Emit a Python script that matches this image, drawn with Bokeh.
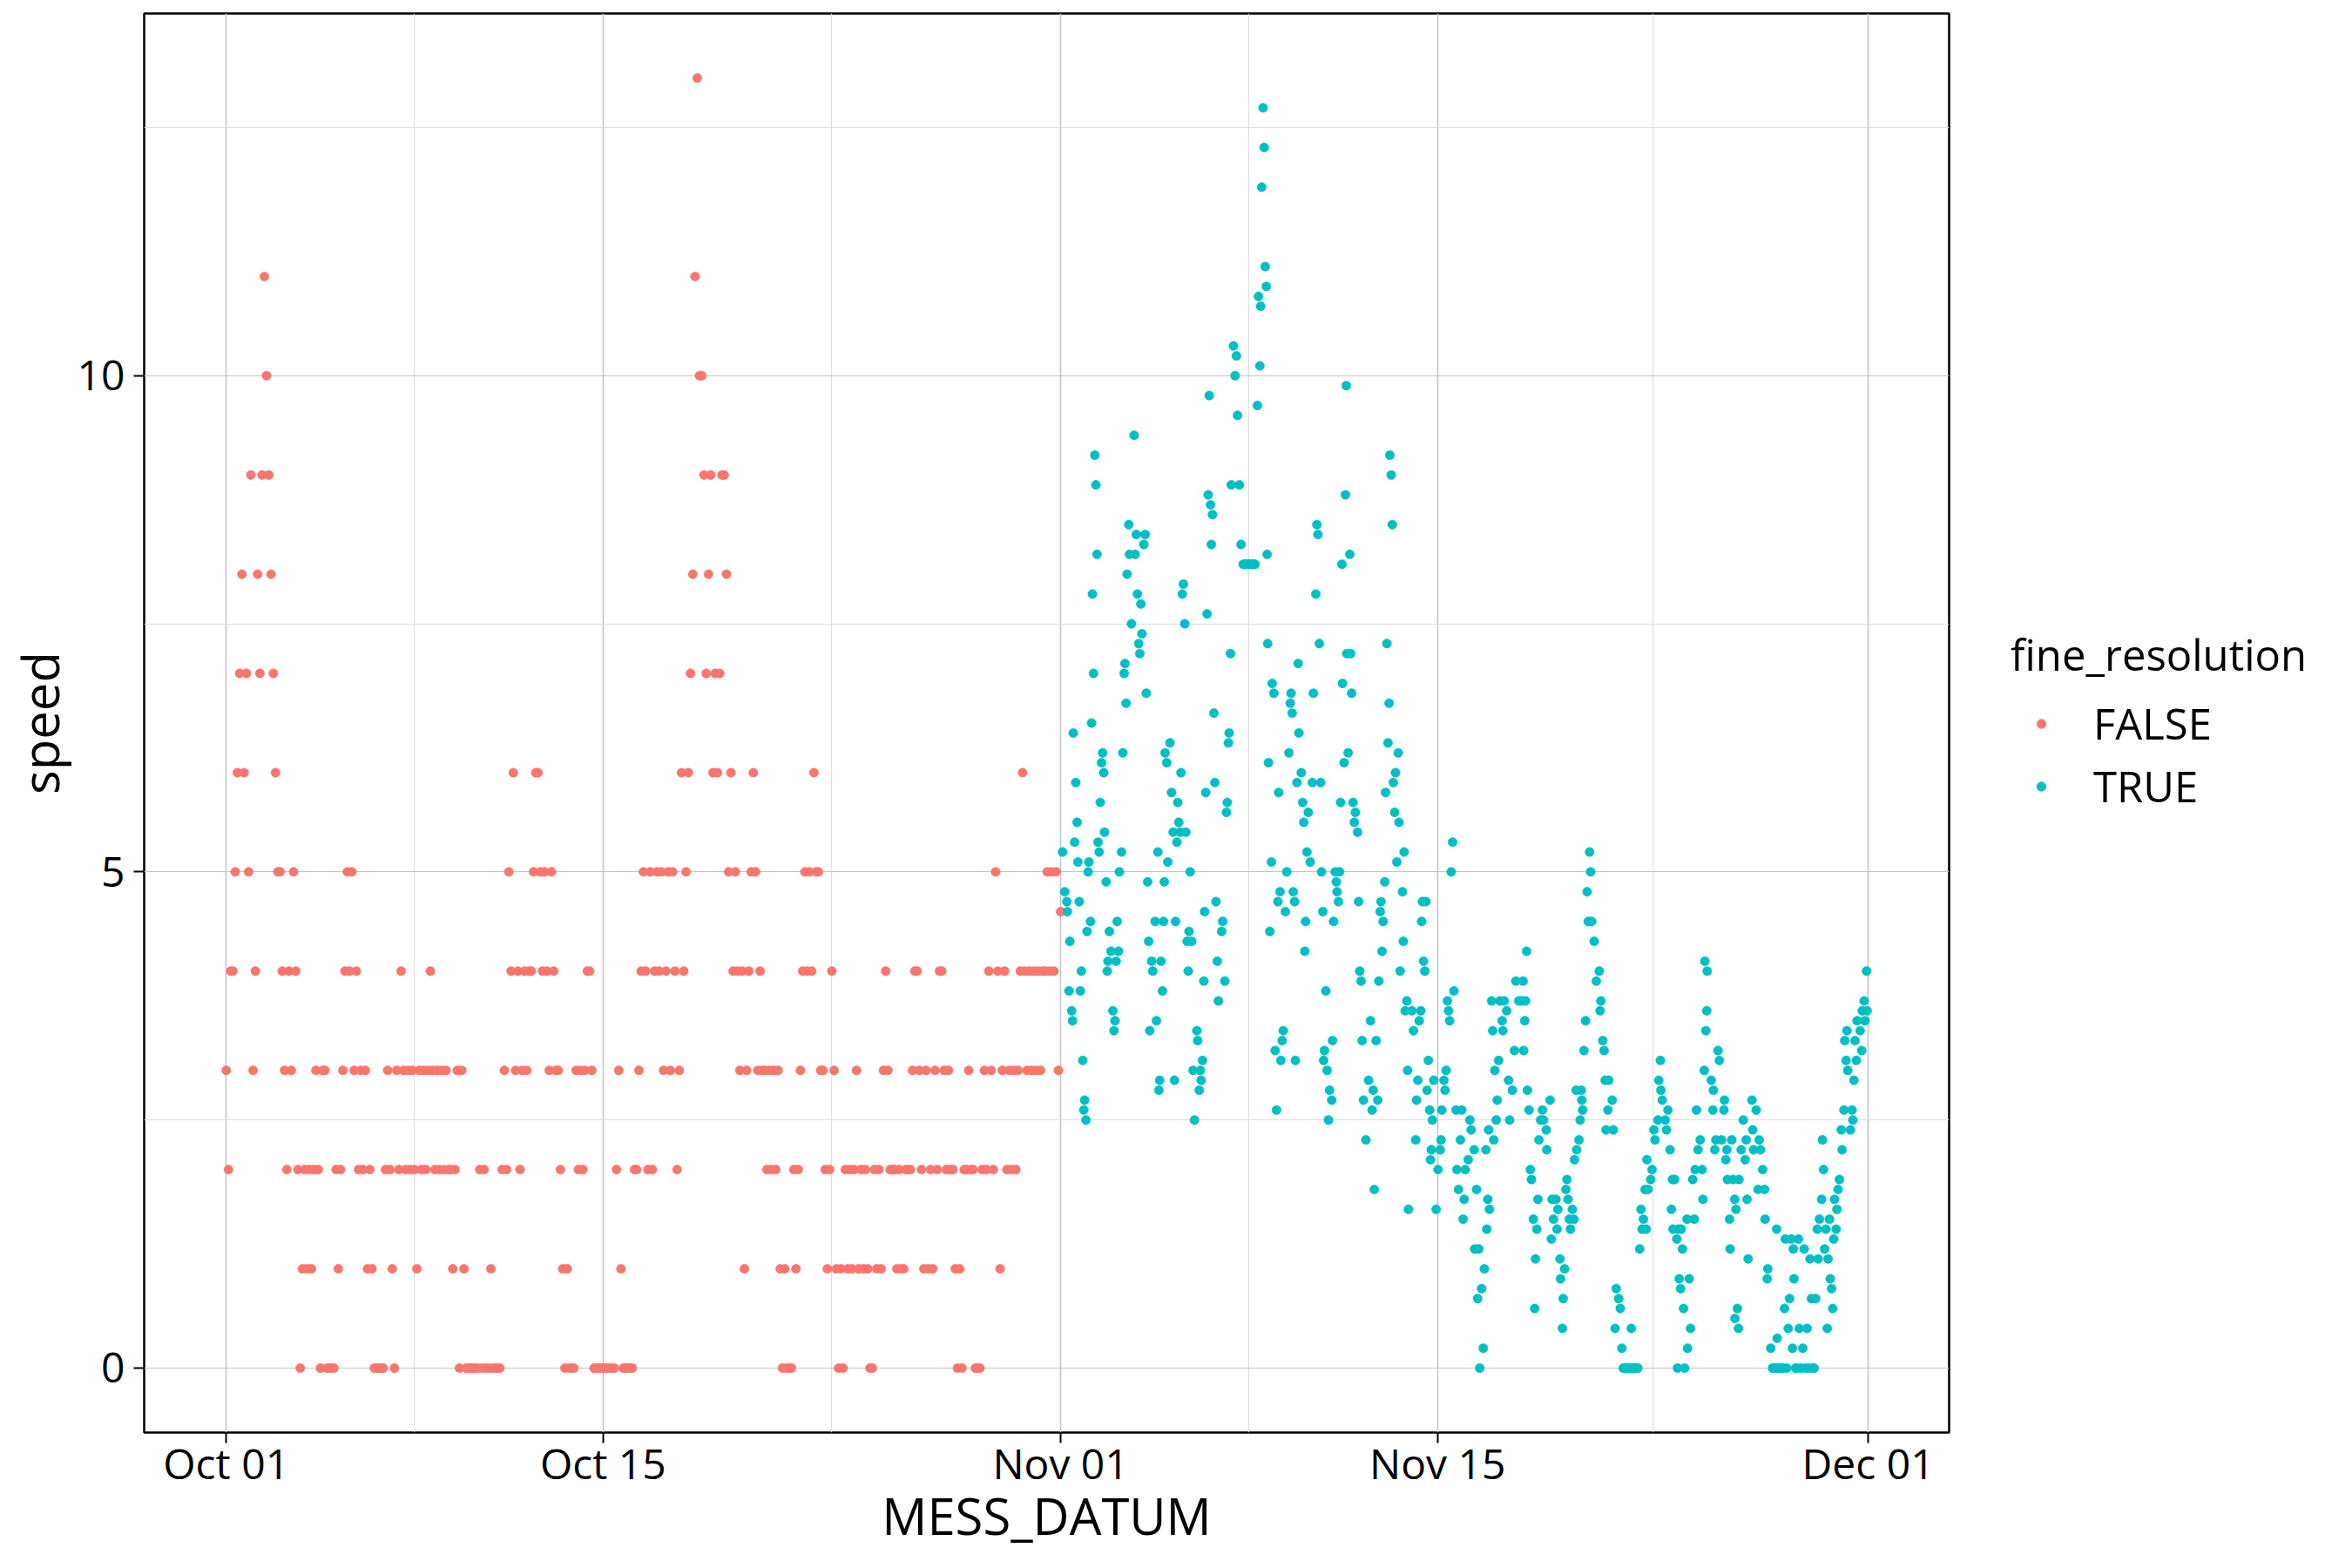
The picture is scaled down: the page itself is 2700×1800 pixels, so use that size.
import pandas as pd
from bokeh.plotting import figure
from bokeh.models import Range1d, FixedTicker, DatetimeTickFormatter, Legend, LegendItem
from bokeh.embed import file_html
from bokeh.resources import INLINE

FONT = "Open Sans"

# ---------------- data ----------------
# FALSE series (integer resolution): 2-hourly readings starting Oct 01 00:00, one row per day
oct_start = "2019-10-01 00:00"
oct_speed_by_day = [
    [3, 2, 4, 4, 5, 6, 7, 8, 6, 7, 5, 9],      # Oct 01
    [3, 4, 8, 7, 9, 11, 10, 9, 8, 7, 6, 5],    # Oct 02
    [5, 4, 3, 2, 4, 3, 5, 4, 2, 0, 1, 2],      # Oct 03
    [1, 2, 1, 2, 3, 2, 0, 3, 3, 0, 0, 0],      # Oct 04
    [0, 2, 1, 2, 3, 4, 5, 4, 5, 3, 4, 2],      # Oct 05
    [3, 2, 3, 1, 2, 1, 0, 0, 0, 0, 0, 2],      # Oct 06
    [3, 2, 1, 0, 3, 2, 4, 3, 2, 3, 2, 3],      # Oct 07
    [2, 1, 3, 2, 3, 2, 3, 4, 3, 2, 3, 2],      # Oct 08
    [3, 2, 3, 2, 2, 1, 2, 3, 0, 3, 1, 0],      # Oct 09
    [0, 0, 0, 0, 0, 2, 0, 2, 0, 0, 1, 0],      # Oct 10
    [0, 0, 0, 2, 3, 2, 5, 4, 6, 3, 4, 2],      # Oct 11
    [3, 4, 3, 4, 4, 5, 6, 6, 5, 4, 5, 4],      # Oct 12
    [3, 5, 4, 3, 3, 2, 1, 0, 1, 0, 0, 0],      # Oct 13
    [3, 2, 3, 2, 3, 4, 4, 3, 0, 0, 0, 0],      # Oct 14
    [0, 0, 0, 0, 0, 0, 2, 3, 1, 0, 0, 0],      # Oct 15
    [0, 0, 2, 2, 3, 4, 5, 4, 2, 5, 2, 4],      # Oct 16
    [5, 4, 5, 3, 4, 5, 3, 5, 4, 2, 3, 6],      # Oct 17
    [4, 5, 6, 7, 8, 11, 13, 10, 10, 9, 7, 8],  # Oct 18
    [9, 6, 7, 6, 7, 9, 9, 8, 5, 6, 4, 5],      # Oct 19
    [4, 3, 4, 1, 3, 4, 5, 6, 5, 3, 4, 3],      # Oct 20
    [3, 2, 3, 2, 3, 2, 3, 1, 0, 1, 0, 0],      # Oct 21
    [0, 2, 1, 2, 3, 4, 5, 4, 5, 4, 6, 5],      # Oct 22
    [5, 3, 3, 2, 1, 2, 4, 3, 1, 0, 1, 0],      # Oct 23
    [2, 1, 2, 1, 2, 3, 1, 2, 1, 2, 1, 0],      # Oct 24
    [0, 2, 1, 2, 1, 3, 4, 3, 2, 2, 2, 1],      # Oct 25
    [2, 1, 1, 2, 2, 2, 3, 4, 4, 3, 2, 1],      # Oct 26
    [3, 1, 2, 1, 3, 2, 4, 4, 3, 2, 3, 2],      # Oct 27
    [2, 1, 0, 1, 0, 2, 2, 3, 2, 2, 0, 0],      # Oct 28
    [0, 2, 3, 2, 4, 3, 2, 5, 4, 1, 3, 4],      # Oct 29
    [2, 3, 2, 3, 2, 3, 4, 6, 4, 3, 4, 3],      # Oct 30
    [4, 3, 4, 3, 4, 4, 5, 4, 5, 4, 5, 3],      # Oct 31
    [4.6],                                     # Nov 01 00:00
]

# TRUE series (0.1 resolution): time in days after Nov 01 00:00 and speed, one row per day
nov_day_by_day = [
    [0.07, 0.15, 0.23, 0.25, 0.31, 0.34, 0.41, 0.44, 0.47, 0.52, 0.56, 0.61, 0.64, 0.69, 0.73, 0.77, 0.82, 0.86, 0.89, 0.94, 0.98],
    [1.02, 1.05, 1.11, 1.15, 1.18, 1.22, 1.27, 1.31, 1.35, 1.39, 1.43, 1.47, 1.52, 1.56, 1.60, 1.63, 1.69, 1.73, 1.76, 1.81, 1.87, 1.94, 1.98],
    [2.02, 2.06, 2.10, 2.15, 2.18, 2.26, 2.31, 2.36, 2.39, 2.43, 2.47, 2.53, 2.56, 2.63, 2.73, 2.77, 2.81, 2.85, 2.90, 2.94, 2.98],
    [3.02, 3.09, 3.14, 3.18, 3.23, 3.27, 3.31, 3.38, 3.42, 3.51, 3.56, 3.61, 3.65, 3.68, 3.73, 3.78, 3.82, 3.85, 3.88, 3.94, 3.98],
    [4.06, 4.12, 4.18, 4.23, 4.27, 4.32, 4.35, 4.39, 4.44, 4.47, 4.52, 4.56, 4.61, 4.65, 4.70, 4.74, 4.77, 4.81, 4.87, 4.92, 4.97],
    [5.06, 5.09, 5.15, 5.19, 5.22, 5.27, 5.32, 5.35, 5.39, 5.44, 5.48, 5.52, 5.57, 5.60, 5.64, 5.69, 5.73, 5.77, 5.82, 5.86, 5.98],
    [6.02, 6.10, 6.16, 6.19, 6.23, 6.26, 6.31, 6.34, 6.42, 6.48, 6.53, 6.57, 6.64, 6.70, 6.78, 6.83, 6.88, 6.93, 6.98],
    [7.03, 7.08, 7.13, 7.18, 7.22, 7.31, 7.35, 7.40, 7.43, 7.47, 7.52, 7.56, 7.60, 7.64, 7.67, 7.69, 7.72, 7.77, 7.83, 7.86, 7.92, 7.97],
    [8.02, 8.07, 8.10, 8.15, 8.18, 8.23, 8.27, 8.35, 8.40, 8.48, 8.53, 8.56, 8.60, 8.64, 8.69, 8.72, 8.78, 8.82, 8.85, 8.94, 8.99],
    [9.03, 9.07, 9.10, 9.15, 9.20, 9.27, 9.35, 9.39, 9.48, 9.52, 9.56, 9.61, 9.66, 9.69, 9.74, 9.77, 9.80, 9.85, 9.90, 9.95, 9.99],
    [10.07, 10.10, 10.14, 10.20, 10.24, 10.27, 10.32, 10.36, 10.40, 10.45, 10.47, 10.53, 10.58, 10.61, 10.63, 10.68, 10.74, 10.77, 10.81, 10.86, 10.91, 10.95],
    [11.03, 11.07, 11.11, 11.16, 11.20, 11.25, 11.34, 11.44, 11.51, 11.57, 11.61, 11.65, 11.72, 11.78, 11.82, 11.87, 11.90, 11.94, 11.98],
    [12.04, 12.07, 12.12, 12.16, 12.20, 12.23, 12.28, 12.32, 12.36, 12.41, 12.44, 12.49, 12.54, 12.57, 12.61, 12.70, 12.73, 12.76, 12.80, 12.86, 12.89, 12.92],
    [13.05, 13.11, 13.19, 13.22, 13.27, 13.32, 13.38, 13.41, 13.44, 13.48, 13.53, 13.57, 13.61, 13.66, 13.71, 13.74, 13.77, 13.81, 13.86, 13.95],
    [14.02, 14.10, 14.13, 14.16, 14.24, 14.28, 14.32, 14.37, 14.41, 14.45, 14.51, 14.56, 14.61, 14.69, 14.72, 14.78, 14.85, 14.90, 14.95, 14.99],
    [15.03, 15.14, 15.20, 15.25, 15.36, 15.38, 15.45, 15.49, 15.53, 15.57, 15.64, 15.70, 15.74, 15.80, 15.83, 15.87, 15.90, 15.93],
    [16.01, 16.05, 16.09, 16.13, 16.18, 16.22, 16.27, 16.32, 16.40, 16.43, 16.48, 16.57, 16.64, 16.68, 16.78, 16.86, 16.91],
    [17.02, 17.13, 17.18, 17.20, 17.24, 17.27, 17.31, 17.34, 17.40, 17.45, 17.49, 17.56, 17.61, 17.64, 17.69, 17.73, 17.77, 17.83, 17.90, 17.94],
    [18.04, 18.06, 18.18, 18.23, 18.26, 18.31, 18.40, 18.44, 18.47, 18.55, 18.57, 18.64, 18.67, 18.72, 18.77, 18.81, 18.85, 18.90, 18.94],
    [19.01, 19.07, 19.09, 19.15, 19.17, 19.26, 19.30, 19.34, 19.36, 19.39, 19.44, 19.50, 19.56, 19.60, 19.65, 19.69, 19.73, 19.82, 19.90],
    [20.01, 20.04, 20.07, 20.14, 20.19, 20.23, 20.26, 20.33, 20.36, 20.49, 20.53, 20.60, 20.64, 20.73, 20.79, 20.85, 20.90, 20.95],
    [21.00, 21.05, 21.10, 21.15, 21.20, 21.25, 21.30, 21.35, 21.40, 21.44, 21.51, 21.56, 21.60, 21.65, 21.71, 21.75, 21.78, 21.82, 21.92, 21.97],
    [22.04, 22.08, 22.19, 22.22, 22.28, 22.30, 22.35, 22.46, 22.51, 22.56, 22.64, 22.69, 22.73, 22.75, 22.81, 22.89, 22.92, 22.94, 22.98],
    [23.03, 23.05, 23.10, 23.14, 23.18, 23.27, 23.29, 23.35, 23.40, 23.48, 23.54, 23.57, 23.62, 23.68, 23.76, 23.83, 23.86, 23.91, 23.93, 23.97],
    [24.00, 24.02, 24.17, 24.23, 24.25, 24.30, 24.34, 24.42, 24.47, 24.55, 24.64, 24.66, 24.71, 24.75, 24.77, 24.85, 24.87, 24.93, 24.98],
    [25.04, 25.05, 25.09, 25.14, 25.18, 25.20, 25.28, 25.36, 25.43, 25.47, 25.50, 25.54, 25.68, 25.71, 25.74, 25.84, 25.91, 25.95],
    [26.00, 26.08, 26.15, 26.17, 26.25, 26.27, 26.38, 26.45, 26.50, 26.55, 26.60, 26.62, 26.67, 26.72, 26.77, 26.82, 26.89, 26.92, 26.97],
    [27.03, 27.08, 27.14, 27.19, 27.22, 27.24, 27.30, 27.35, 27.41, 27.44, 27.50, 27.57, 27.62, 27.68, 27.73, 27.78, 27.84, 27.89, 27.94, 27.99],
    [28.05, 28.11, 28.14, 28.19, 28.27, 28.30, 28.34, 28.38, 28.43, 28.48, 28.51, 28.56, 28.59, 28.64, 28.68, 28.72, 28.75, 28.81, 28.84, 28.88, 28.93],
    [29.00, 29.03, 29.10, 29.13, 29.18, 29.21, 29.24, 29.34, 29.40, 29.43, 29.47, 29.51, 29.56, 29.59, 29.70, 29.76, 29.78, 29.85, 29.88, 29.94, 29.96],
]
nov_speed_by_day = [
    [5.2, 4.8, 4.7, 4.6, 3.8, 4.3, 3.6, 3.5, 6.4, 5.3, 5.9, 5.5, 5.1, 4.7, 3.8, 4.0, 3.1, 2.6, 2.7, 2.5, 4.4],
    [5.0, 5.1, 4.5, 6.5, 7.8, 7.0, 9.2, 8.9, 8.2, 5.3, 5.2, 5.7, 6.1, 6.2, 6.0, 5.4, 4.9, 4.0, 4.1, 4.4, 4.2, 3.6, 3.4],
    [3.5, 4.1, 4.5, 4.2, 5.0, 5.2, 6.2, 7.0, 7.1, 6.7, 8.0, 8.5, 8.2, 7.5, 9.4, 8.2, 8.4, 7.8, 7.3, 7.2, 7.7],
    [7.4, 8.3, 8.4, 6.8, 4.9, 4.3, 3.4, 4.1, 4.0, 4.5, 3.5, 5.2, 2.8, 2.9, 4.1, 3.8, 4.5, 4.9, 6.2, 6.1, 5.1],
    [6.3, 5.8, 5.4, 2.9, 4.5, 5.3, 5.7, 5.5, 5.4, 6.0, 7.8, 7.9, 7.5, 5.4, 4.3, 4.0, 4.4, 5.0, 4.3, 3.0, 2.5],
    [3.4, 3.3, 2.8, 3.0, 2.9, 3.1, 3.9, 4.6, 5.8, 7.6, 8.8, 9.8, 8.7, 8.3, 8.6, 6.6, 5.9, 4.7, 4.1, 3.7, 4.4],
    [4.5, 3.9, 5.6, 5.7, 6.3, 6.4, 7.2, 8.9, 10.3, 10.0, 10.2, 9.6, 8.9, 8.3, 8.1, 8.1, 8.1, 8.1, 8.1],
    [8.1, 8.1, 8.1, 8.1, 8.1, 9.7, 10.8, 10.1, 10.7, 11.9, 12.7, 12.3, 11.1, 10.9, 8.2, 7.3, 6.1, 4.4, 5.1, 6.9, 6.8, 3.2],
    [2.6, 4.7, 5.8, 4.8, 3.1, 3.3, 3.4, 4.6, 5.0, 6.2, 6.7, 6.8, 6.6, 4.8, 4.7, 3.1, 5.9, 7.1, 6.4, 6.0, 5.7],
    [5.5, 4.2, 4.5, 5.2, 5.6, 5.1, 5.9, 6.8, 7.8, 8.5, 8.4, 7.3, 5.9, 5.0, 4.6, 3.1, 3.2, 3.8, 3.0, 2.5, 2.8],
    [2.7, 3.3, 4.5, 5.0, 4.9, 4.8, 4.7, 5.0, 5.7, 8.1, 6.9, 6.1, 8.8, 9.9, 7.2, 6.2, 8.2, 7.2, 6.8, 5.7, 5.5, 5.6],
    [5.4, 4.7, 4.0, 3.9, 3.3, 2.7, 2.3, 2.9, 3.5, 2.6, 2.8, 1.8, 3.3, 2.7, 3.9, 4.6, 4.7, 4.2, 4.5],
    [4.9, 5.8, 7.3, 6.3, 6.7, 9.2, 9.0, 8.5, 5.9, 5.6, 6.0, 5.1, 6.2, 5.5, 4.0, 4.8, 4.3, 5.2, 3.6, 3.7, 3.0, 1.6],
    [3.6, 3.4, 2.3, 2.7, 2.9, 3.5, 3.6, 4.5, 4.7, 4.1, 4.0, 4.7, 2.8, 3.1, 2.6, 2.1, 2.2, 2.5, 2.9, 1.6],
    [2.0, 2.2, 2.3, 2.6, 2.9, 2.8, 3.0, 3.7, 3.6, 3.5, 5.0, 5.3, 3.8, 2.6, 2.0, 1.8, 2.3, 2.6, 1.5, 1.7],
    [2.0, 2.1, 2.5, 2.4, 2.2, 1.2, 1.8, 0.7, 1.2, 0.0, 0.8, 0.2, 1.0, 2.2, 1.4, 1.7, 2.4, 1.6],
    [3.7, 3.4, 2.3, 3.0, 2.5, 2.7, 3.1, 3.7, 3.5, 3.4, 3.7, 3.6, 2.9, 2.5, 2.8, 3.2, 3.9],
    [3.7, 3.7, 3.9, 3.2, 3.5, 3.7, 4.2, 2.8, 2.6, 2.0, 1.9, 1.5, 0.6, 1.1, 1.4, 1.7, 2.3, 2.5, 2.6, 2.5],
    [2.4, 2.2, 2.7, 1.3, 1.7, 1.5, 1.7, 1.4, 1.6, 1.1, 0.9, 0.4, 0.7, 1.0, 1.8, 1.9, 1.7, 1.5, 1.4],
    [1.6, 1.5, 2.1, 2.8, 2.2, 2.3, 2.5, 2.8, 2.7, 2.6, 3.2, 3.5, 4.8, 4.5, 5.2, 5.0, 4.5, 4.3, 3.9],
    [4.0, 3.6, 3.7, 3.3, 3.2, 2.9, 2.4, 2.6, 2.9, 2.7, 2.4, 0.4, 0.8, 0.7, 0.6, 0.2, 0.0, 0.0],
    [0.0, 0.0, 0.0, 0.0, 0.4, 0.0, 0.0, 0.0, 0.0, 0.0, 1.2, 1.6, 1.4, 1.5, 1.8, 1.4, 2.1, 1.8, 1.9, 2.0],
    [2.4, 2.3, 2.5, 2.9, 3.1, 2.8, 2.7, 2.5, 2.4, 2.6, 2.2, 1.6, 1.9, 1.4, 1.9, 1.3, 0.0, 1.4, 0.9],
    [0.8, 1.4, 1.2, 0.6, 0.0, 1.5, 0.2, 0.9, 0.4, 1.9, 1.5, 2.0, 2.6, 2.2, 2.3, 2.0, 1.7, 3.0, 4.1, 3.4],
    [3.6, 4.0, 2.9, 2.6, 2.8, 2.2, 2.3, 3.2, 3.1, 2.3, 2.6, 2.7, 2.1, 2.2, 1.9, 1.5, 1.2, 2.3, 1.9],
    [1.7, 0.5, 1.6, 0.6, 0.4, 1.9, 2.2, 2.5, 2.1, 2.3, 1.7, 1.1, 2.7, 2.4, 2.2, 2.6, 1.8, 2.3],
    [2.2, 2.0, 1.8, 1.5, 0.9, 1.0, 0.2, 0.0, 0.0, 0.0, 1.4, 0.3, 0.0, 0.0, 0.0, 0.0, 0.6, 1.3, 0.0],
    [0.4, 0.7, 1.3, 0.2, 1.2, 0.9, 0.0, 0.0, 1.3, 0.4, 0.0, 0.2, 1.2, 0.0, 0.4, 0.0, 1.1, 0.7, 0.0, 0.0],
    [0.7, 1.4, 1.1, 1.5, 1.7, 2.3, 2.0, 1.2, 1.4, 0.4, 1.1, 1.5, 0.9, 0.8, 0.6, 1.3, 1.7, 1.4, 1.6, 1.8, 1.9],
    [2.4, 2.2, 2.6, 3.3, 3.1, 3.4, 3.0, 2.4, 2.6, 2.5, 2.9, 3.3, 3.1, 3.5, 3.4, 3.2, 3.6, 3.7, 3.5, 4.0, 3.6],
]
nov_start = "2019-11-01 00:00"

x_major = ["2019-10-01", "2019-10-15", "2019-11-01", "2019-11-15", "2019-12-01"]
x_minor = ["2019-10-08", "2019-10-23 12:00", "2019-11-08", "2019-11-23"]
y_major = [0, 5, 10]
y_minor = [2.5, 7.5, 12.5]
legend_title = "fine_resolution"
legend_labels = ["FALSE", "TRUE"]
colors = ["#F8766D", "#00BFC4"]

# ---------------- build ----------------
oct_speed = [v for row in oct_speed_by_day for v in row]
oct_time = pd.date_range(oct_start, periods=len(oct_speed), freq="2h")
nov_day = [d for row in nov_day_by_day for d in row]
nov_speed = [v for row in nov_speed_by_day for v in row]
assert len(nov_day) == len(nov_speed)
nov_time = pd.Timestamp(nov_start) + pd.to_timedelta(nov_day, unit="D")


def ms(s):
    return pd.Timestamp(s).value / 1e6


t0 = pd.Timestamp(oct_start)
t1 = pd.Timestamp("2019-11-30 23:00")
span = t1 - t0
x_range = Range1d(start=t0 - span * 0.05, end=t1 + span * 0.05)
y_range = Range1d(start=-0.65, end=13.65)

FRAME_L, FRAME_T, FRAME_W, FRAME_H = 165, 15, 2072, 1629
p = figure(frame_width=FRAME_W, frame_height=FRAME_H, x_axis_type="datetime",
           x_range=x_range, y_range=y_range,
           output_backend="svg", toolbar_location=None,
           min_border_left=FRAME_L, min_border_right=2700 - FRAME_L - FRAME_W,
           min_border_top=FRAME_T, min_border_bottom=1800 - FRAME_T - FRAME_H,
           background_fill_color="white", border_fill_color="white")

r_false = p.scatter(x=oct_time, y=oct_speed, size=10.5, fill_color=colors[0],
                    line_color=colors[0], line_width=0.5)
r_true = p.scatter(x=nov_time, y=nov_speed, size=10.5, fill_color=colors[1],
                   line_color=colors[1], line_width=0.5)

p.xaxis.ticker = FixedTicker(ticks=[ms(s) for s in x_major], minor_ticks=[ms(s) for s in x_minor])
p.yaxis.ticker = FixedTicker(ticks=y_major, minor_ticks=y_minor)
fmt = "%b %d"
p.xaxis.formatter = DatetimeTickFormatter(microseconds=fmt, milliseconds=fmt, seconds=fmt,
                                          minsec=fmt, minutes=fmt, hourmin=fmt, hours=fmt,
                                          days=fmt, months=fmt, years=fmt)

for ax in (p.xaxis, p.yaxis):
    ax.axis_line_color = None
    ax.major_tick_line_color = "black"
    ax.major_tick_line_width = 2
    ax.major_tick_out = 12
    ax.major_tick_in = 0
    ax.minor_tick_line_color = None
    ax.major_label_text_font = FONT
    ax.major_label_text_font_size = "48px"
    ax.major_label_text_color = "black"
    ax.axis_label_text_font = FONT
    ax.axis_label_text_font_size = "58px"
    ax.axis_label_text_font_style = "normal"
    ax.axis_label_text_color = "black"

p.xaxis.axis_label = "MESS_DATUM"
p.yaxis.axis_label = "speed"
p.xaxis.major_label_standoff = -10
p.yaxis.major_label_standoff = 10
p.xaxis.axis_label_standoff = -15
p.yaxis.axis_label_standoff = 1

p.xgrid.grid_line_color = "#c6c6c6"
p.xgrid.grid_line_width = 1.6
p.ygrid.grid_line_color = "#c6c6c6"
p.ygrid.grid_line_width = 1.2
p.xgrid.minor_grid_line_color = "#dedede"
p.xgrid.minor_grid_line_width = 1
p.ygrid.minor_grid_line_color = "#dedede"
p.ygrid.minor_grid_line_width = 1

p.outline_line_color = "black"
p.outline_line_width = 2.5

legend = Legend(items=[LegendItem(label=legend_labels[0], renderers=[r_false]),
                       LegendItem(label=legend_labels[1], renderers=[r_true])],
                title=legend_title, location=(71, 706))
legend.title_text_font = FONT
legend.title_text_font_size = "49px"
legend.title_text_font_style = "normal"
legend.title_text_color = "black"
legend.label_text_font = FONT
legend.label_text_font_size = "49px"
legend.label_text_color = "black"
legend.glyph_width = 70
legend.glyph_height = 27
legend.label_height = 72
legend.label_standoff = 25
legend.spacing = 0
legend.padding = 0
legend.margin = 0
legend.title_standoff = 10
legend.border_line_color = None
legend.background_fill_alpha = 0
p.add_layout(legend, "right")

open("out.html", "w").write(file_html(p, INLINE))
